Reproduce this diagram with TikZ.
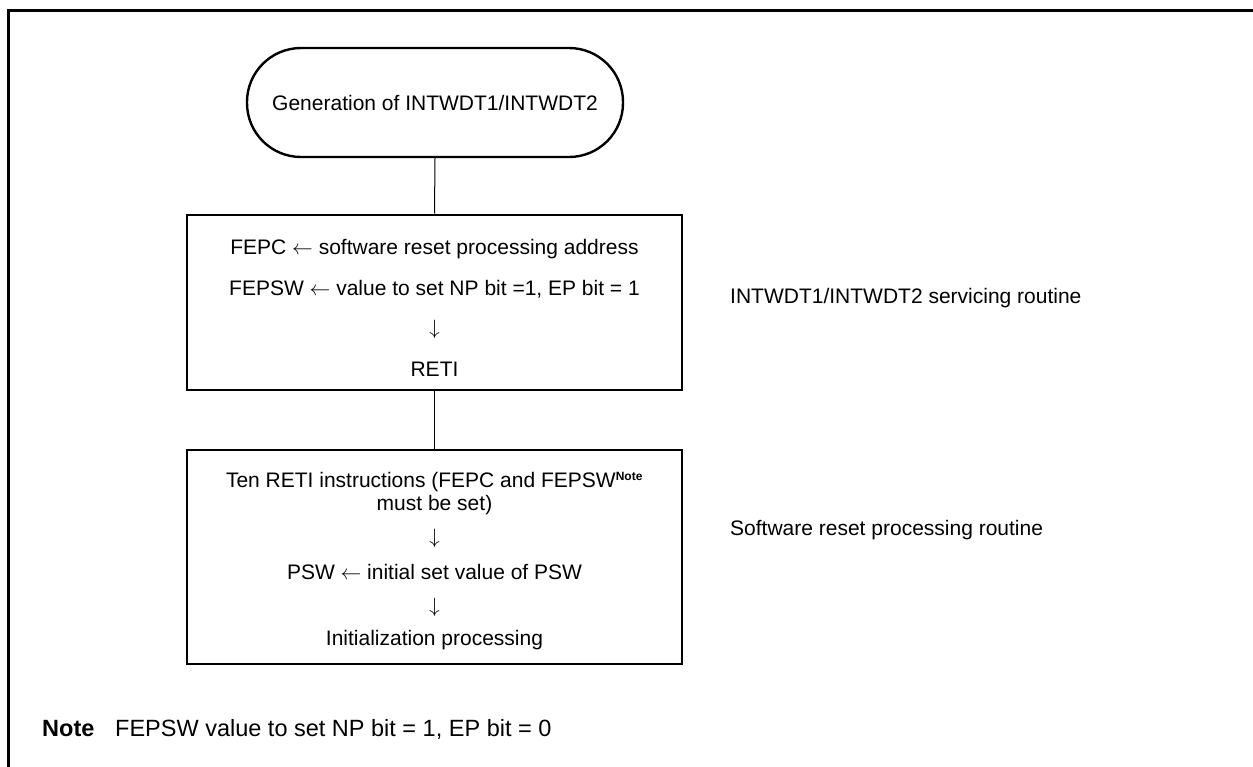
\documentclass[tikz,border=0pt]{standalone}
\usepackage{fontspec}
\setmainfont{Liberation Sans}
\begin{document}
\begin{tikzpicture}[x=1pt,y=-1pt,
  font=\fontsize{21}{25}\selectfont,
  frame/.style={line width=3pt},
  box/.style={draw, line width=2.6pt, minimum width=495pt, inner sep=0pt},
  term/.style={draw, line width=2.4pt, rounded corners=54pt, minimum width=376pt, minimum height=109pt, inner sep=0pt},
  txt/.style={inner sep=0pt},
  notetxt/.style={inner sep=0pt, font=\fontsize{23.5}{28}\selectfont},
  link/.style={line width=1pt}]
\useasboundingbox (0,0) rectangle (1253,766);
\coordinate (fa) at (1260,10);
\coordinate (fc) at (8,10);
\coordinate (fb) at (8,775);
\draw[frame] (fa) -- (fc) -- (fb);
% terminal
\node[term] (start) at (435,102.5) {Generation of INTWDT1/INTWDT2};
% boxes
\node[box, minimum height=175pt] (b1) at (434.5,302.5) {};
\node[box, minimum height=214pt] (b2) at (434.5,557) {};
\draw[link] (start.south) -- (b1.north);
\draw[link] (b1.south) -- (b2.north);
% box 1 text
\node[txt] (t11) at (434.5,249) {FEPC $\leftarrow$ software reset processing address};
\node[txt] (t12) at (434.5,289) {FEPSW $\leftarrow$ value to set NP bit =1, EP bit = 1};
\node[txt] (t13) at (434.5,329) {$\downarrow$};
\node[txt] (t14) at (434.5,369) {RETI};
% box 2 text
\node[txt] (t21) at (434.5,482) {Ten RETI instructions (FEPC and FEPSW\textsuperscript{\fontsize{12}{12}\selectfont\bfseries Note}};
\node[txt] (t22) at (434.5,505) {must be set)};
\node[txt] (t23) at (434.5,538) {$\downarrow$};
\node[txt] (t24) at (434.5,572) {PSW $\leftarrow$ initial set value of PSW};
\node[txt] (t25) at (434.5,607) {$\downarrow$};
\node[txt] (t26) at (434.5,640) {Initialization processing};
% side labels
\node[txt, anchor=west] (l1) at (730,298) {INTWDT1/INTWDT2 servicing routine};
\node[txt, anchor=west] (l2) at (730,530) {Software reset processing routine};
% note
\node[notetxt, anchor=west] (nl) at (42,729) {\bfseries Note};
\node[notetxt, anchor=west] (nt) at (115,729) {FEPSW value to set NP bit = 1, EP bit = 0};
\end{tikzpicture}
\end{document}
